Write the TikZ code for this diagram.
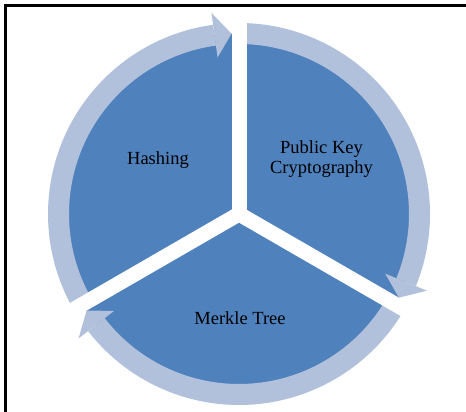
\documentclass[tikz,border=0pt]{standalone}
\usepackage{fontspec}
\setmainfont{Liberation Serif}
\definecolor{darkseg}{HTML}{4F81BD}
\definecolor{lightring}{HTML}{B2C1DB}
\tikzset{
  ringarc/.style={draw=lightring, line width=21pt, line cap=butt},
  headfill/.style={fill=lightring},
  gapband/.style={draw=white, line width=15pt, line cap=butt},
  lbl/.style={font=\fontsize{18.5}{20}\selectfont, text=black, anchor=base, inner sep=0pt},
  framestyle/.style={draw=black, line width=2.2pt}
}
\begin{document}
\begin{tikzpicture}[x=1pt,y=1pt]
\useasboundingbox (0,0) rectangle (466,412);
\fill[white] (0,0) rectangle (466,412);
\begin{scope}[shift={(239,198)}]
  \coordinate (c) at (0,0);
  % dark disk
  \fill[darkseg] (c) circle[radius=180.5];
  % ring arcs
  \draw[ringarc] (210:180.5) arc[start angle=210, end angle=97.8, radius=180.5];
  \draw[ringarc] (90:180.5) arc[start angle=90, end angle=-22.2, radius=180.5];
  \draw[ringarc] (-30:180.5) arc[start angle=-30, end angle=-142.2, radius=180.5];
  % white gaps
  \coordinate (g1) at (90:205);
  \coordinate (g2) at (-30:205);
  \coordinate (g3) at (210:205);
  \draw[gapband] (c) -- (g1);
  \draw[gapband] (c) -- (g2);
  \draw[gapband] (c) -- (g3);
  % arrowheads
  \fill[headfill] (97.8:158) -- (97.8:203) -- (92.38:180.5) -- cycle;
  \fill[headfill] (-22.2:158) -- (-22.2:203) -- (-27.62:180.5) -- cycle;
  \fill[headfill] (-142.2:158) -- (-142.2:203) -- (-147.62:180.5) -- cycle;
\end{scope}
% frame (top and left edges only)
\coordinate (fbl) at (5.5,0);
\coordinate (ftl) at (5.5,406.5);
\coordinate (ftr) at (466,406.5);
\draw[framestyle] (fbl) -- (ftl) -- (ftr);
% labels
\node[lbl] (hash) at (158,247) {Hashing};
\node[lbl] (pk1) at (321.5,258) {Public Key};
\node[lbl] (pk2) at (321.5,238) {Cryptography};
\node[lbl] (merkle) at (240,87) {Merkle Tree};
\end{tikzpicture}
\end{document}
